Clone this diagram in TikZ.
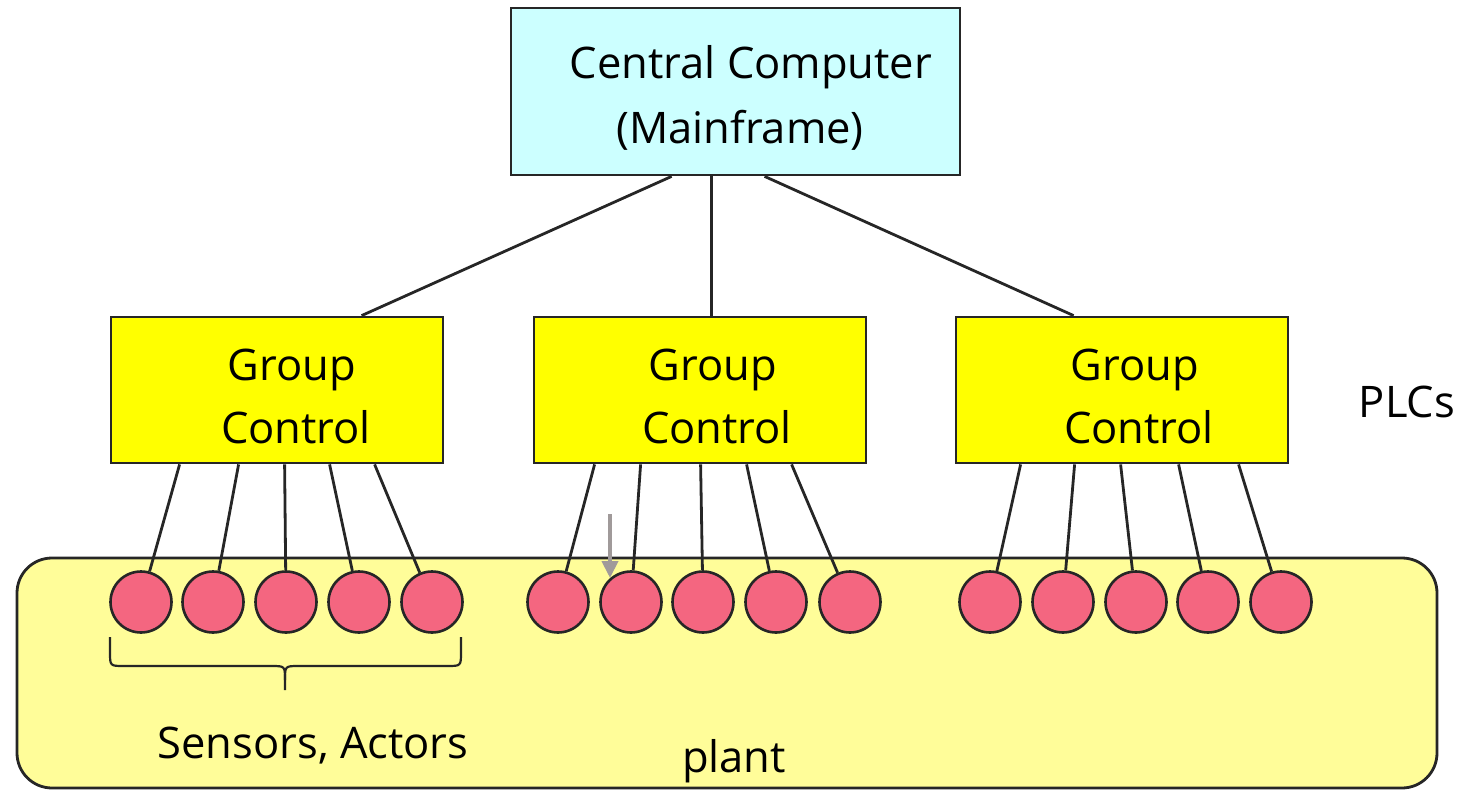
\documentclass[tikz,border=0pt]{standalone}
\usepackage{fontspec}
\setmainfont{Open Sans}
\usetikzlibrary{arrows.meta}
\definecolor{mainframe}{RGB}{204,255,255}
\definecolor{plc}{RGB}{255,255,0}
\definecolor{plantbg}{RGB}{255,253,153}
\definecolor{device}{RGB}{244,102,128}
\definecolor{pointer}{RGB}{160,154,154}
\tikzset{
  box/.style={draw=black!85, line width=2.8pt, inner sep=0pt},
  plcbox/.style={box, fill=plc, minimum width=332pt, minimum height=146pt},
  dev/.style={circle, draw=black!85, line width=2.6pt, fill=device, minimum size=61pt, inner sep=0pt},
  wire/.style={draw=black!85, line width=2.8pt},
  txt/.style={font=\fontsize{43.5}{52}\selectfont, anchor=base, inner sep=0pt}
}
\begin{document}
\begin{tikzpicture}[x=1pt, y=-1pt]
\useasboundingbox (0,0) rectangle (1460,790);

% plant area
\node[box, fill=plantbg, rounded corners=35pt, minimum width=1420pt, minimum height=230pt] (plant) at (727,673) {};

% central computer
\node[box, fill=mainframe, minimum width=449pt, minimum height=167pt] (cc) at (735.5,91.5) {};
\node[txt] (cct1) at (751,78) {Central Computer};
\node[txt] (cct2) at (740,143) {(Mainframe)};

% group controllers
\node[plcbox] (g1) at (277,390) {};
\node[plcbox] (g2) at (700,390) {};
\node[plcbox] (g3) at (1122,390) {};
\foreach \g/\x in {1/292, 2/713, 3/1135} {
  \node[txt] (gt\g a) at (\x,380) {Group};
  \node[txt] (gt\g b) at (\x+4,443) {Control};
}
\node[txt] (plcs) at (1407,417) {PLCs};

% links from the central computer to the groups
\draw[wire] ([xshift=162pt]cc.south west) -- ([xshift=252pt]g1.north west);
\draw[wire] ([xshift=202pt]cc.south west) -- ([xshift=179pt]g2.north west);
\draw[wire] ([xshift=255pt]cc.south west) -- ([xshift=119pt]g3.north west);

% sensors and actors
\foreach \i/\x in {1/141, 2/213, 3/286, 4/359, 5/432} {\node[dev] (s1\i) at (\x,602) {};}
\foreach \i/\x in {1/558, 2/631, 3/703, 4/776, 5/850} {\node[dev] (s2\i) at (\x,602) {};}
\foreach \i/\x in {1/990, 2/1063, 3/1136, 4/1208, 5/1281} {\node[dev] (s3\i) at (\x,602) {};}

% field wiring
\foreach \i/\d in {1/70, 2/129, 3/175, 4/220, 5/265} {\draw[wire] ([xshift=\d pt]g1.south west) -- (s1\i);}
\foreach \i/\d in {1/62, 2/108, 3/168, 4/214, 5/259} {\draw[wire] ([xshift=\d pt]g2.south west) -- (s2\i);}
\foreach \i/\d in {1/66, 2/120, 3/166, 4/224, 5/284} {\draw[wire] ([xshift=\d pt]g3.south west) -- (s3\i);}

% pointer arrow
\coordinate (ptail) at (610,514);
\coordinate (ptip) at (610,578);
\draw[pointer, line width=4pt, -{Triangle[length=17pt, width=16pt]}] (ptail) -- (ptip);

% brace under the first group of devices
\draw[black!85, line width=2.2pt]
  (110,637) -- (110,652) .. controls (110,666) .. (124,666) -- (271,666)
  .. controls (285,666) .. (285,680) -- (285,690);
\draw[black!85, line width=2.2pt]
  (461,637) -- (461,652) .. controls (461,666) .. (447,666) -- (299,666)
  .. controls (285,666) .. (285,680);
\node[txt] (sa) at (313,758) {Sensors, Actors};
\node[txt] (plantlbl) at (734,772) {plant};
\end{tikzpicture}
\end{document}
